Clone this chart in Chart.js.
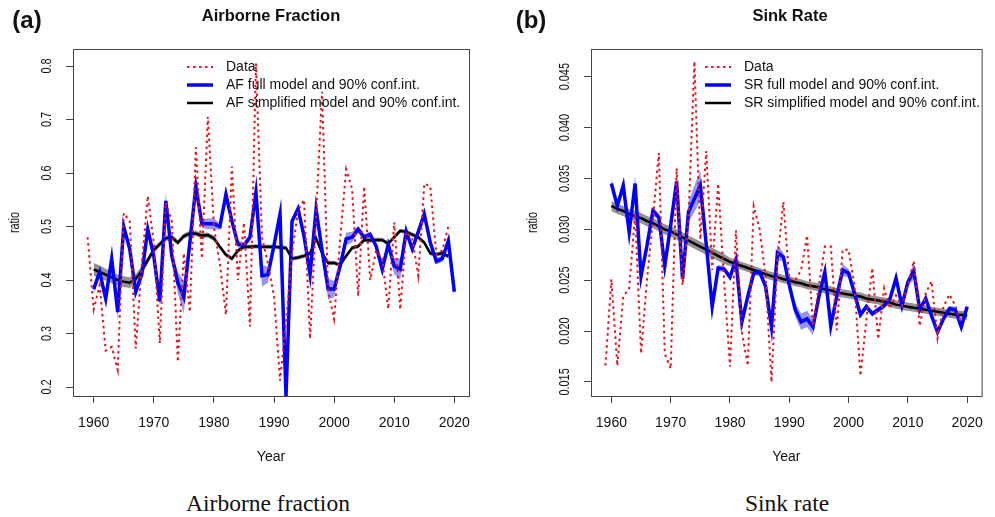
<!DOCTYPE html>
<html>
<head>
<meta charset="utf-8">
<script src="https://cdn.jsdelivr.net/npm/chart.js@4.4.0/dist/chart.umd.min.js"></script>
<style>
body { margin: 0; width: 995px; height: 517px; background: #fff; position: relative; overflow: hidden; font-family: "Liberation Sans", Arial, sans-serif; color: #111; }
canvas { position: absolute; top: 0; }
.txt { position: absolute; white-space: nowrap; transform: translate(-50%, -50%); }
.tag { font-weight: bold; font-size: 24px; }
.ttl { font-weight: bold; font-size: 16.5px; }
.cap { font-family: "Liberation Serif", "DejaVu Serif", serif; font-size: 23.5px; }
</style>
</head>
<body>
<canvas id="afChart" width="497" height="470" style="left:0"></canvas>
<canvas id="srChart" width="498" height="470" style="left:497px"></canvas>

<div class="txt tag" style="left:27px;top:20px">(a)</div>
<div class="txt ttl" style="left:271px;top:15px">Airborne Fraction</div>
<div class="txt tag" style="left:531px;top:20px">(b)</div>
<div class="txt ttl" style="left:790px;top:15px">Sink Rate</div>
<div class="txt cap" style="left:268px;top:503px">Airborne fraction</div>
<div class="txt cap" style="left:787px;top:503px">Sink rate</div>

<script>
// years on the x axis
const years = [1959, 1960, 1961, 1962, 1963, 1964, 1965, 1966, 1967, 1968, 1969,
  1970, 1971, 1972, 1973, 1974, 1975, 1976, 1977, 1978, 1979,
  1980, 1981, 1982, 1983, 1984, 1985, 1986, 1987, 1988, 1989,
  1990, 1991, 1992, 1993, 1994, 1995, 1996, 1997, 1998, 1999,
  2000, 2001, 2002, 2003, 2004, 2005, 2006, 2007, 2008, 2009,
  2010, 2011, 2012, 2013, 2014, 2015, 2016, 2017, 2018, 2019, 2020];
const xTicks = [1960, 1970, 1980, 1990, 2000, 2010, 2020];

// (a) airborne fraction
const afData = [0.48, 0.345, 0.39, 0.268, 0.275, 0.232, 0.525, 0.51, 0.272, 0.43, 0.557,
  0.47, 0.282, 0.545, 0.51, 0.247, 0.45, 0.34, 0.648, 0.44, 0.705,
  0.50, 0.43, 0.335, 0.612, 0.40, 0.507, 0.313, 0.805, 0.48, 0.43,
  0.37, 0.212, 0.32, 0.45, 0.53, 0.55, 0.29, 0.52, 0.752, 0.38,
  0.327, 0.475, 0.607, 0.57, 0.37, 0.575, 0.40, 0.455, 0.44, 0.346,
  0.508, 0.345, 0.49, 0.477, 0.408, 0.58, 0.575, 0.448, 0.455, 0.50, null];
const afFull = [null, 0.383, 0.415, 0.365, 0.44, 0.34, 0.50, 0.458, 0.378, 0.41, 0.495,
  0.445, 0.36, 0.548, 0.445, 0.395, 0.368, 0.47, 0.575, 0.505, 0.505,
  0.505, 0.50, 0.56, 0.51, 0.467, 0.465, 0.48, 0.564, 0.408, 0.41,
  0.465, 0.523, 0.183, 0.51, 0.533, 0.482, 0.41, 0.532, 0.455, 0.383,
  0.383, 0.426, 0.477, 0.48, 0.495, 0.48, 0.485, 0.463, 0.42, 0.466,
  0.426, 0.42, 0.491, 0.458, 0.49, 0.523, 0.47, 0.435, 0.44, 0.473, 0.378];
const afFullHalf = [null, 0.01, 0.006, 0.01, 0.006, 0.015, 0.008, 0.006, 0.01, 0.006, 0.006,
  0.006, 0.008, 0.015, 0.01, 0.02, 0.03, 0.02, 0.015, 0.008, 0.01,
  0.01, 0.006, 0.015, 0.008, 0.006, 0.006, 0.006, 0.008, 0.02, 0.015,
  0.006, 0.008, 0.01, 0.006, 0.008, 0.006, 0.006, 0.008, 0.006, 0.02,
  0.015, 0.01, 0.012, 0.01, 0.006, 0.006, 0.006, 0.006, 0.012, 0.006,
  0.015, 0.02, 0.006, 0.006, 0.006, 0.012, 0.006, 0.006, 0.006, 0.008, 0.01];
const afSimp = [null, 0.42, 0.415, 0.41, 0.405, 0.40, 0.397, 0.395, 0.402, 0.418, 0.437,
  0.456, 0.467, 0.478, 0.48, 0.47, 0.482, 0.487, 0.487, 0.483, 0.484,
  0.478, 0.462, 0.447, 0.44, 0.455, 0.462, 0.462, 0.463, 0.462, 0.462,
  0.462, 0.461, 0.46, 0.44, 0.442, 0.445, 0.45, 0.478, 0.45, 0.432,
  0.432, 0.428, 0.445, 0.46, 0.463, 0.475, 0.474, 0.475, 0.475, 0.468,
  0.48, 0.492, 0.49, 0.485, 0.48, 0.47, 0.45, 0.448, 0.45, 0.444, null];
const afSimpHalf = [null, 0.012, 0.012, 0.011, 0.011, 0.01, 0.01, 0.01, 0.009, 0.008, 0.007,
  0.006, 0.005, 0.005, 0.005, 0.005, 0.005, 0.005, 0.005, 0.005, 0.005,
  0.005, 0.004, 0.004, 0.004, 0.004, 0.004, 0.004, 0.004, 0.004, 0.004,
  0.004, 0.004, 0.004, 0.004, 0.004, 0.004, 0.004, 0.004, 0.004, 0.004,
  0.004, 0.004, 0.004, 0.004, 0.004, 0.004, 0.004, 0.004, 0.004, 0.004,
  0.004, 0.004, 0.004, 0.004, 0.004, 0.004, 0.004, 0.004, 0.004, 0.004, null];
const afYTicks = [0.2, 0.3, 0.4, 0.5, 0.6, 0.7, 0.8];
const afYLabels = ['0.2', '0.3', '0.4', '0.5', '0.6', '0.7', '0.8'];

// (b) sink rate
const srData = [0.0166, 0.0251, 0.0166, 0.0234, 0.0242, 0.0315, 0.0178, 0.025, 0.031, 0.0375, 0.0178,
  0.0163, 0.036, 0.0245, 0.031, 0.0465, 0.029, 0.0377, 0.026, 0.0345, 0.025,
  0.0165, 0.0299, 0.0199, 0.0166, 0.0323, 0.030, 0.0254, 0.015, 0.027, 0.0327,
  0.0251, 0.025, 0.026, 0.0294, 0.0205, 0.0245, 0.0283, 0.0283, 0.0201, 0.028,
  0.028, 0.0245, 0.0156, 0.0211, 0.0262, 0.0192, 0.0242, 0.0222, 0.0235, 0.0225,
  0.0245, 0.0269, 0.0205, 0.0237, 0.0249, 0.0193, 0.0224, 0.0236, 0.0225, 0.0207, null];
const srFull = [null, 0.0345, 0.0323, 0.0343, 0.0297, 0.0345, 0.0254, 0.0284, 0.0318, 0.0312, 0.0264,
  0.0304, 0.0347, 0.0251, 0.0317, 0.0330, 0.0343, 0.0285, 0.0224, 0.0262, 0.0261,
  0.0253, 0.027, 0.0209, 0.0234, 0.0257, 0.0258, 0.0244, 0.0204, 0.0277, 0.0273,
  0.0245, 0.0221, 0.0209, 0.0212, 0.0204, 0.0234, 0.0258, 0.0205, 0.0234, 0.026,
  0.0257, 0.0237, 0.0216, 0.0224, 0.0217, 0.0221, 0.0225, 0.0232, 0.0252, 0.0225,
  0.0248, 0.0259, 0.0221, 0.0232, 0.0215, 0.0199, 0.0212, 0.0222, 0.0221, 0.0204, 0.0224];
const srFullHalf = [null, 0.0006, 0.0003, 0.0006, 0.0003, 0.0008, 0.0008, 0.0003, 0.0005, 0.0003, 0.0003,
  0.0003, 0.0008, 0.0004, 0.001, 0.0013, 0.0015, 0.0004, 0.0008, 0.0003, 0.0003,
  0.0003, 0.0003, 0.0008, 0.0003, 0.0003, 0.0003, 0.0003, 0.0006, 0.0008, 0.0004,
  0.0003, 0.0007, 0.0008, 0.0008, 0.0008, 0.0003, 0.0003, 0.0004, 0.0003, 0.0006,
  0.0004, 0.0003, 0.0003, 0.0003, 0.0003, 0.0003, 0.0003, 0.0003, 0.0005, 0.0003,
  0.0004, 0.0008, 0.0003, 0.0003, 0.0003, 0.0003, 0.0003, 0.0003, 0.0003, 0.0003, 0.0003];
const srSimp = [null, 0.0323, 0.0320, 0.0318, 0.0315, 0.0313, 0.0311, 0.0308, 0.0306, 0.0303, 0.0300,
  0.0298, 0.0295, 0.0292, 0.0289, 0.0286, 0.0283, 0.0280, 0.0277, 0.0274, 0.0271,
  0.0268, 0.0266, 0.0264, 0.0262, 0.0260, 0.0258, 0.0256, 0.0254, 0.0253, 0.0251,
  0.0250, 0.0248, 0.0247, 0.0245, 0.0244, 0.0243, 0.0241, 0.0240, 0.0238, 0.0237,
  0.0236, 0.0235, 0.0234, 0.0232, 0.0231, 0.0230, 0.0229, 0.0228, 0.0226, 0.0225,
  0.0224, 0.0223, 0.0222, 0.0221, 0.0220, 0.0219, 0.0218, 0.0217, 0.0216, 0.0216, 0.0215];
const srSimpHalf = [null, 0.0005, 0.0005, 0.0005, 0.0005, 0.0005, 0.0005, 0.0005, 0.0005, 0.0005, 0.0005,
  0.0005, 0.0005, 0.0005, 0.0005, 0.0005, 0.0005, 0.0005, 0.0005, 0.0005, 0.0005,
  0.0004, 0.0004, 0.0004, 0.0004, 0.0004, 0.0004, 0.0004, 0.0004, 0.0004, 0.0004,
  0.0004, 0.0004, 0.0004, 0.0004, 0.0004, 0.0004, 0.0004, 0.0004, 0.0004, 0.0004,
  0.0004, 0.0004, 0.0004, 0.0004, 0.0004, 0.0004, 0.0004, 0.0004, 0.0004, 0.0004,
  0.0004, 0.0004, 0.0004, 0.0004, 0.0004, 0.0004, 0.0004, 0.0004, 0.0004, 0.0004, 0.0004];
const srYTicks = [0.015, 0.020, 0.025, 0.030, 0.035, 0.040, 0.045];
const srYLabels = ['0.015', '0.020', '0.025', '0.030', '0.035', '0.040', '0.045'];

const sansFont = '"Liberation Sans", Arial, sans-serif';

function pts(vals) {
  return years.map((x, i) => ({ x: x, y: vals[i] }));
}
function band(vals, half, sign) {
  return years.map((x, i) => ({ x: x, y: vals[i] == null ? null : vals[i] + sign * half[i] }));
}

// box around the plot region, R style
const boxPlugin = {
  id: 'box',
  afterDraw(chart) {
    const { ctx, chartArea: a } = chart;
    ctx.save();
    ctx.strokeStyle = '#444';
    ctx.lineWidth = 1;
    ctx.strokeRect(a.left + 0.5, a.top + 0.5, a.right - a.left, a.bottom - a.top);
    ctx.restore();
  }
};

// y tick labels and axis title, rotated like R (las = 0), a bit squeezed along the text
const yLabelPlugin = {
  id: 'yLabels',
  afterDraw(chart, args, opts) {
    const s = chart.scales.y;
    const a = chart.chartArea;
    const ctx = chart.ctx;
    const put = (txt, x, y) => {
      ctx.save();
      ctx.translate(x, y);
      ctx.rotate(-Math.PI / 2);
      ctx.scale(0.78, 1);
      ctx.fillText(txt, 0, 0);
      ctx.restore();
    };
    ctx.save();
    ctx.font = '14px ' + sansFont;
    ctx.fillStyle = '#111';
    ctx.textAlign = 'center';
    ctx.textBaseline = 'middle';
    opts.values.forEach((v, i) => put(opts.labels[i], a.left - opts.offset, s.getPixelForValue(v)));
    put(opts.title, a.left - opts.titleOffset, (a.top + a.bottom) / 2);
    ctx.restore();
  }
};

// legend drawn inside the plot, no frame
const insideLegend = {
  id: 'insideLegend',
  afterDatasetsDraw(chart, args, opts) {
    const { ctx, chartArea: a } = chart;
    ctx.save();
    ctx.font = '14px ' + sansFont;
    ctx.textBaseline = 'middle';
    opts.order.forEach((di, i) => {
      const ds = chart.data.datasets[di];
      const y = a.top + 18 + i * 18;
      const x0 = a.left + 114;
      ctx.beginPath();
      ctx.strokeStyle = ds.borderColor;
      ctx.lineWidth = ds.borderWidth;
      ctx.setLineDash(ds.borderDash || []);
      ctx.moveTo(x0, y);
      ctx.lineTo(x0 + 26, y);
      ctx.stroke();
      ctx.setLineDash([]);
      ctx.fillStyle = '#111';
      ctx.fillText(ds.label, x0 + 39, y);
    });
    ctx.restore();
  }
};

function makeChart(id, cfg) {
  const ctx = document.getElementById(id).getContext('2d');
  return new Chart(ctx, {
    type: 'line',
    data: {
      datasets: [
        { label: 'simp lo', data: band(cfg.simp, cfg.simpHalf, -1), borderWidth: 0, pointRadius: 0, fill: false, order: 10 },
        { label: 'simp hi', data: band(cfg.simp, cfg.simpHalf, 1), borderWidth: 0, pointRadius: 0, fill: '-1', backgroundColor: 'rgba(110,110,110,0.75)', order: 10 },
        { label: 'full lo', data: band(cfg.full, cfg.fullHalf, -1), borderWidth: 0, pointRadius: 0, fill: false, order: 10 },
        { label: 'full hi', data: band(cfg.full, cfg.fullHalf, 1), borderWidth: 0, pointRadius: 0, fill: '-1', backgroundColor: 'rgba(115,115,245,0.75)', order: 10 },
        { label: cfg.prefix + ' simplified model and 90% conf.int.', data: pts(cfg.simp), borderColor: '#000000', borderWidth: 2.5, pointRadius: 0, fill: false, order: 3 },
        { label: cfg.prefix + ' full model and 90% conf.int.', data: pts(cfg.full), borderColor: '#0000ff', borderWidth: 3.5, pointRadius: 0, fill: false, order: 2 },
        { label: 'Data', data: pts(cfg.data), borderColor: '#e8141c', borderWidth: 2, borderDash: [2.5, 3.5], pointRadius: 0, fill: false, order: 1 }
      ]
    },
    options: {
      responsive: false,
      animation: false,
      devicePixelRatio: 1,
      events: [],
      layout: { padding: { left: cfg.padLeft, top: 49, right: cfg.padRight, bottom: 0 } },
      scales: {
        x: {
          type: 'linear',
          min: 1956.56,
          max: 2022.44,
          afterBuildTicks: s => { s.ticks = xTicks.map(v => ({ value: v })); },
          afterFit: s => { s.height = 74; },
          ticks: { padding: 12, autoSkip: false, maxRotation: 0, color: '#111', font: { family: sansFont, size: 14 }, callback: v => String(v) },
          grid: { drawOnChartArea: false, drawTicks: true, tickLength: 7, color: '#444' },
          border: { display: false },
          title: { display: true, text: 'Year', color: '#111', font: { family: sansFont, size: 14 }, padding: 4 }
        },
        y: {
          min: cfg.yMin,
          max: cfg.yMax,
          afterBuildTicks: s => { s.ticks = cfg.yTicks.map(v => ({ value: v })); },
          afterFit: s => { s.width = 72; },
          ticks: { display: false },
          grid: { drawOnChartArea: false, drawTicks: true, tickLength: 7, color: '#444' },
          border: { display: false },
          title: { display: false }
        }
      },
      plugins: {
        legend: { display: false },
        tooltip: { enabled: false },
        yLabels: { values: cfg.yTicks, labels: cfg.yLabels, offset: 26, title: 'ratio', titleOffset: 58 },
        insideLegend: { order: [6, 5, 4] }
      }
    },
    plugins: [boxPlugin, yLabelPlugin, insideLegend]
  });
}

makeChart('afChart', {
  prefix: 'AF', data: afData, full: afFull, fullHalf: afFullHalf, simp: afSimp, simpHalf: afSimpHalf,
  yMin: 0.1832, yMax: 0.8318, yTicks: afYTicks, yLabels: afYLabels, padLeft: 1, padRight: 28
});
makeChart('srChart', {
  prefix: 'SR', data: srData, full: srFull, fullHalf: srFullHalf, simp: srSimp, simpHalf: srSimpHalf,
  yMin: 0.01362, yMax: 0.04772, yTicks: srYTicks, yLabels: srYLabels, padLeft: 22, padRight: 7
});
</script>
</body>
</html>
